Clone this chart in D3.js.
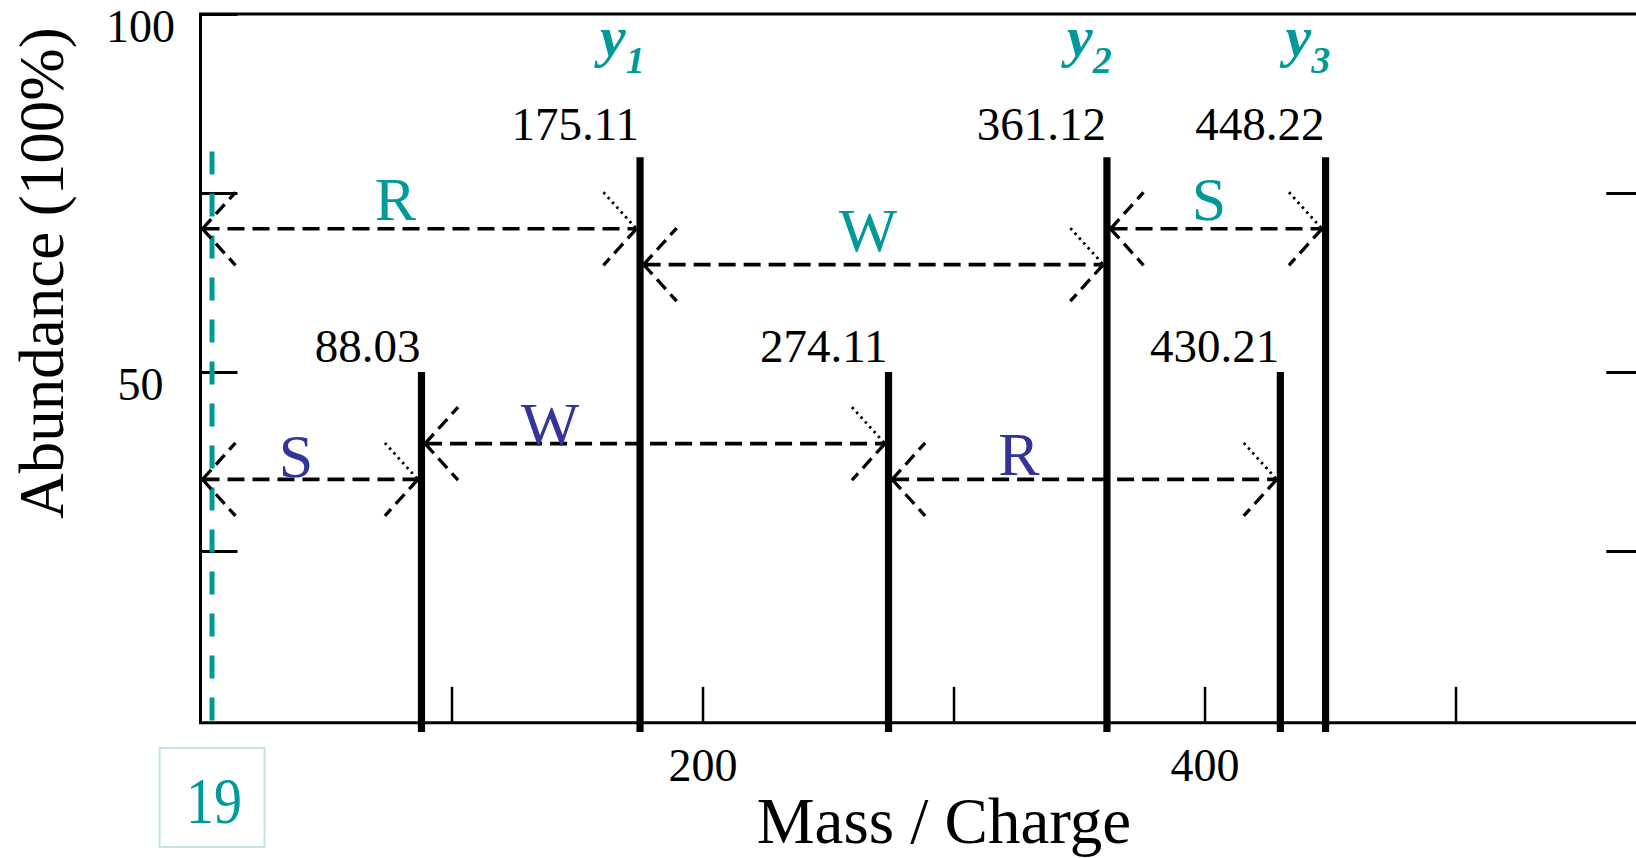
<!DOCTYPE html>
<html>
<head>
<meta charset="utf-8">
<script src="https://cdnjs.cloudflare.com/ajax/libs/d3/7.8.5/d3.min.js"></script>
<style>
  html, body { margin: 0; padding: 0; background: #fff; }
  svg { display: block; }
</style>
</head>
<body>
<script>
// peaks of the spectrum
const peakMz = [88.03, 175.11, 274.11, 361.12, 430.21, 448.22];
const peakAbundance = [50, 80, 50, 80, 50, 80];
const peakLabels = ["88.03", "175.11", "274.11", "361.12", "430.21", "448.22"];
const peakLabelLevel = [51.4, 82.4, 51.4, 82.4, 51.4, 82.4];

// y ion names over the tall peaks
const yIonMz = [175.11, 361.12, 448.22];
const yIonIndex = ["1", "2", "3"];
const yIonLevel = 94.1;

// residue gaps, upper (y series) and lower row
const upperResidues = ["R", "W", "S"];
const upperFrom = [0, 175.11, 361.12];
const upperTo = [175.11, 361.12, 448.22];
const upperLevel = [70, 65, 70];
const upperLabelMz = [77.7, 265.9, 401.8];
const upperLabelLevel = [71.2, 66.9, 71.2];

const lowerResidues = ["S", "W", "R"];
const lowerFrom = [0, 88.03, 274.11];
const lowerTo = [88.03, 274.11, 430.21];
const lowerLevel = [35, 40, 35];
const lowerLabelMz = [38.0, 139.2, 326.1];
const lowerLabelLevel = [35.3, 39.8, 35.6];

// start marker (labelled 19, drawn near the left edge in the figure)
const startLabel = "19";
const startMz = 4.6;
const startSpan = [-1.3, 80.8];

// axis ticks
const xTicks = [100, 200, 300, 400, 500];
const xTickLabels = [200, 400];
const yTicks = [25, 50, 75, 100];
const yTickLabels = [50, 100];

const width = 1636, height = 858;
const teal = "#009999", blue = "#333399";
const serif = "'Liberation Serif', 'Times New Roman', serif";

const svg = d3.select("body").append("svg")
  .attr("width", width).attr("height", height)
  .style("background", "#fff");

const x = d3.scaleLinear().domain([0, 576]).range([200.5, 1646.3]);
const y = d3.scaleLinear().domain([0, 100]).range([730, 14]);
const floor = 1; // frame bottom sits just above zero

// frame
const frame = svg.append("g").attr("stroke", "#000").attr("stroke-width", 3).attr("fill", "none");
frame.append("path")
  .attr("d", `M${x(576)},${y(100)}H${x(0)}V${y(floor)}H${x(576)}V${y(100)}`);

// axes
const xAxis = g => g
  .attr("transform", `translate(0,${y(floor)})`)
  .call(d3.axisBottom(x).tickValues(xTicks).tickSizeInner(-36).tickSizeOuter(0).tickPadding(26)
    .tickFormat(d => xTickLabels.includes(d) ? d : ""))
  .call(g => g.select(".domain").remove())
  .call(g => g.selectAll(".tick line").attr("stroke-width", 2.5))
  .call(g => g.selectAll("text").attr("font-family", serif).attr("font-size", 46).attr("fill", "#000"));

const yAxis = g => g
  .attr("transform", `translate(${x(0)},0)`)
  .call(d3.axisLeft(y).tickValues(yTicks).tickSizeInner(-37).tickSizeOuter(0)
    .tickFormat(d => yTickLabels.includes(d) ? d : ""))
  .call(g => g.select(".domain").remove())
  .call(g => g.selectAll(".tick line").attr("stroke-width", 3))
  .call(g => g.selectAll("text")
    .attr("font-family", serif).attr("font-size", 46).attr("fill", "#000")
    .attr("text-anchor", "middle").attr("x", -60).attr("dy", "0.6em"));

const yAxisRight = g => g
  .attr("transform", `translate(${x(576)},0)`)
  .call(d3.axisRight(y).tickValues([25, 50, 75]).tickSizeInner(-40).tickSizeOuter(0).tickFormat(""))
  .call(g => g.select(".domain").remove())
  .call(g => g.selectAll(".tick line").attr("stroke-width", 3));

svg.append("g").call(xAxis);
svg.append("g").call(yAxis);
svg.append("g").call(yAxisRight);

// start marker
svg.append("line")
  .attr("x1", x(startMz)).attr("x2", x(startMz))
  .attr("y1", y(startSpan[1])).attr("y2", y(startSpan[0]))
  .attr("stroke", teal).attr("stroke-width", 5).attr("stroke-dasharray", "23,19");
svg.append("rect")
  .attr("x", x(startMz) - 52.5).attr("y", y(0) + 18)
  .attr("width", 105).attr("height", 99)
  .attr("fill", "none").attr("stroke", "#c3e5e7").attr("stroke-width", 2);
svg.append("text")
  .attr("x", x(startMz) + 2).attr("y", y(0) + 93)
  .attr("text-anchor", "middle")
  .attr("font-family", serif).attr("font-size", 66).attr("fill", teal)
  .attr("textLength", 56).attr("lengthAdjust", "spacingAndGlyphs")
  .text(startLabel);

// residue arrows
const barHalf = 3.6;
const armDx = 33, armDy = 36.5;

function drawGaps(names, from, to, level, labelMz, labelLevel, color) {
  const g = svg.append("g");
  names.forEach((name, i) => {
    const x1 = x(from[i]) + (from[i] > 0 ? barHalf : 2);
    const x2 = x(to[i]) - barHalf;
    const yy = y(level[i]);
    g.append("line")
      .attr("x1", x1).attr("x2", x2).attr("y1", yy).attr("y2", yy)
      .attr("stroke", "#000").attr("stroke-width", 3.6).attr("stroke-dasharray", "17,8");
    // left head, both arms dashed
    g.append("path")
      .attr("d", `M${x1},${yy}L${x1 + armDx},${yy - armDy}M${x1},${yy}L${x1 + armDx},${yy + armDy}`)
      .attr("stroke", "#000").attr("stroke-width", 3.3).attr("fill", "none").attr("stroke-dasharray", "13,7");
    // right head, upper arm dotted, lower arm dashed
    g.append("path")
      .attr("d", `M${x2 - armDx},${yy - armDy}L${x2},${yy}`)
      .attr("stroke", "#000").attr("stroke-width", 2.8).attr("fill", "none").attr("stroke-dasharray", "2.5,4");
    g.append("path")
      .attr("d", `M${x2},${yy}L${x2 - armDx},${yy + armDy}`)
      .attr("stroke", "#000").attr("stroke-width", 3.3).attr("fill", "none").attr("stroke-dasharray", "13,7");
    g.append("text")
      .attr("x", x(labelMz[i])).attr("y", y(labelLevel[i]))
      .attr("text-anchor", "middle")
      .attr("font-family", serif).attr("font-size", 62).attr("fill", color)
      .text(name);
  });
}

drawGaps(upperResidues, upperFrom, upperTo, upperLevel, upperLabelMz, upperLabelLevel, teal);
drawGaps(lowerResidues, lowerFrom, lowerTo, lowerLevel, lowerLabelMz, lowerLabelLevel, blue);

// peaks
svg.append("g").selectAll("line")
  .data(peakMz)
  .join("line")
  .attr("x1", d => x(d)).attr("x2", d => x(d))
  .attr("y1", y(0) + 2).attr("y2", (d, i) => y(peakAbundance[i]))
  .attr("stroke", "#000").attr("stroke-width", 7.2);

svg.append("g").selectAll("text")
  .data(peakMz)
  .join("text")
  .attr("x", d => x(d) - 1)
  .attr("y", (d, i) => y(peakLabelLevel[i]))
  .attr("text-anchor", "end")
  .attr("font-family", serif).attr("font-size", 47).attr("fill", "#000")
  .text((d, i) => peakLabels[i]);

// y ion names
const ions = svg.append("g").selectAll("text")
  .data(yIonMz)
  .join("text")
  .attr("x", d => x(d) - 40)
  .attr("y", y(yIonLevel))
  .attr("font-family", serif).attr("font-weight", "bold").attr("font-style", "italic")
  .attr("fill", teal);
ions.append("tspan").attr("font-size", 58).text("y");
ions.append("tspan").attr("font-size", 38).attr("dy", 16.5).text((d, i) => yIonIndex[i]);

// axis titles
svg.append("text")
  .attr("x", 944).attr("y", 843)
  .attr("text-anchor", "middle")
  .attr("font-family", serif).attr("font-size", 65).attr("fill", "#000")
  .text("Mass / Charge");

svg.append("text")
  .attr("transform", `translate(63,${273}) rotate(-90)`)
  .attr("text-anchor", "middle")
  .attr("font-family", serif).attr("font-size", 63).attr("fill", "#000")
  .text("Abundance (100%)");
</script>
</body>
</html>
